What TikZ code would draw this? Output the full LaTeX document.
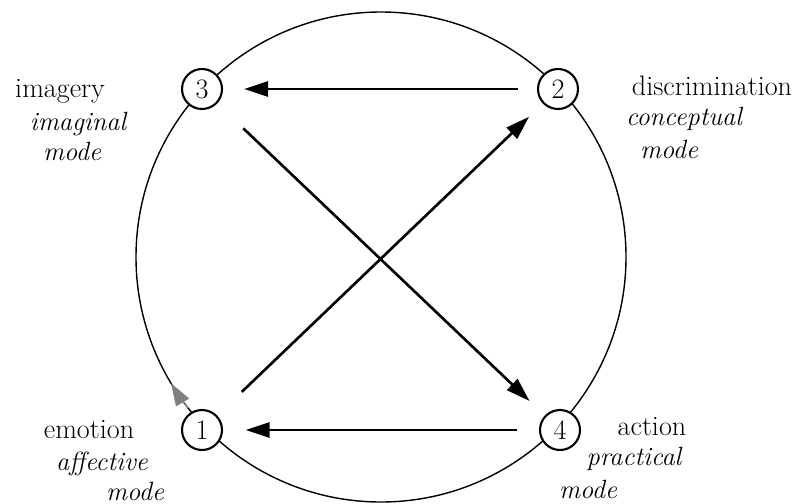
\documentclass[tikz,border=0pt]{standalone}
\usetikzlibrary{arrows.meta}

\begin{document}
\begin{tikzpicture}[
  >={Triangle[length=4.8mm, width=3mm]},
  vtx/.style={circle, draw, line width=1.2pt, fill=white, minimum size=8mm, inner sep=0pt, font=\fontsize{16}{19}\selectfont},
  word/.style={anchor=base, inner sep=0pt, font=\fontsize{16}{19}\selectfont},
  mode/.style={anchor=base, inner sep=0pt, font=\fontsize{15}{18}\selectfont\itshape},
  link/.style={->, line width=1.5pt},
]
  \useasboundingbox (0, 0) rectangle (16.14, 10.06);

  \coordinate (ctr) at (7.62, 4.92);
  \draw[line width=0.8pt] (ctr) circle (4.9);

  % gray direction mark on the big circle, left of node 1
  \draw[gray, line width=0.8pt, -{Triangle[length=4.5mm, width=3mm]}] (ctr) ++(218:4.9) arc (218:211:4.9);

  \foreach \name/\x/\y/\num in {n3/4.04/8.28/3, n2/11.16/8.28/2, n1/4.04/1.46/1, n4/11.2/1.46/4}
    \node[vtx] (\name) at (\x, \y) {\num};

  \foreach \name/\x/\y/\txt in {%
      imagery/1.20/8.12/imagery, discr/14.24/8.16/discrimination,
      emotion/1.78/1.30/emotion, action/13.04/1.36/action}
    \node[word] (\name) at (\x, \y) {\txt};

  \foreach \name/\x/\y/\txt in {%
      imaginal/1.56/7.46/imaginal, modeA/1.44/6.86/mode,
      concept/13.68/7.56/conceptual, modeB/13.38/6.90/mode,
      affect/2.04/0.66/affective, modeC/2.70/0.06/mode,
      practical/12.68/0.76/practical, modeD/11.76/0.10/mode}
    \node[mode] (\name) at (\x, \y) {\txt};

  \foreach \from/\to/\sa/\sb in {n2/n3/0.38/0.42, n4/n1/0.44/0.45, n1/n2/0.68/0.38, n3/n4/0.72/0.42}
    \draw[link, shorten <=\sa cm, shorten >=\sb cm] (\from) -- (\to);
\end{tikzpicture}
\end{document}
